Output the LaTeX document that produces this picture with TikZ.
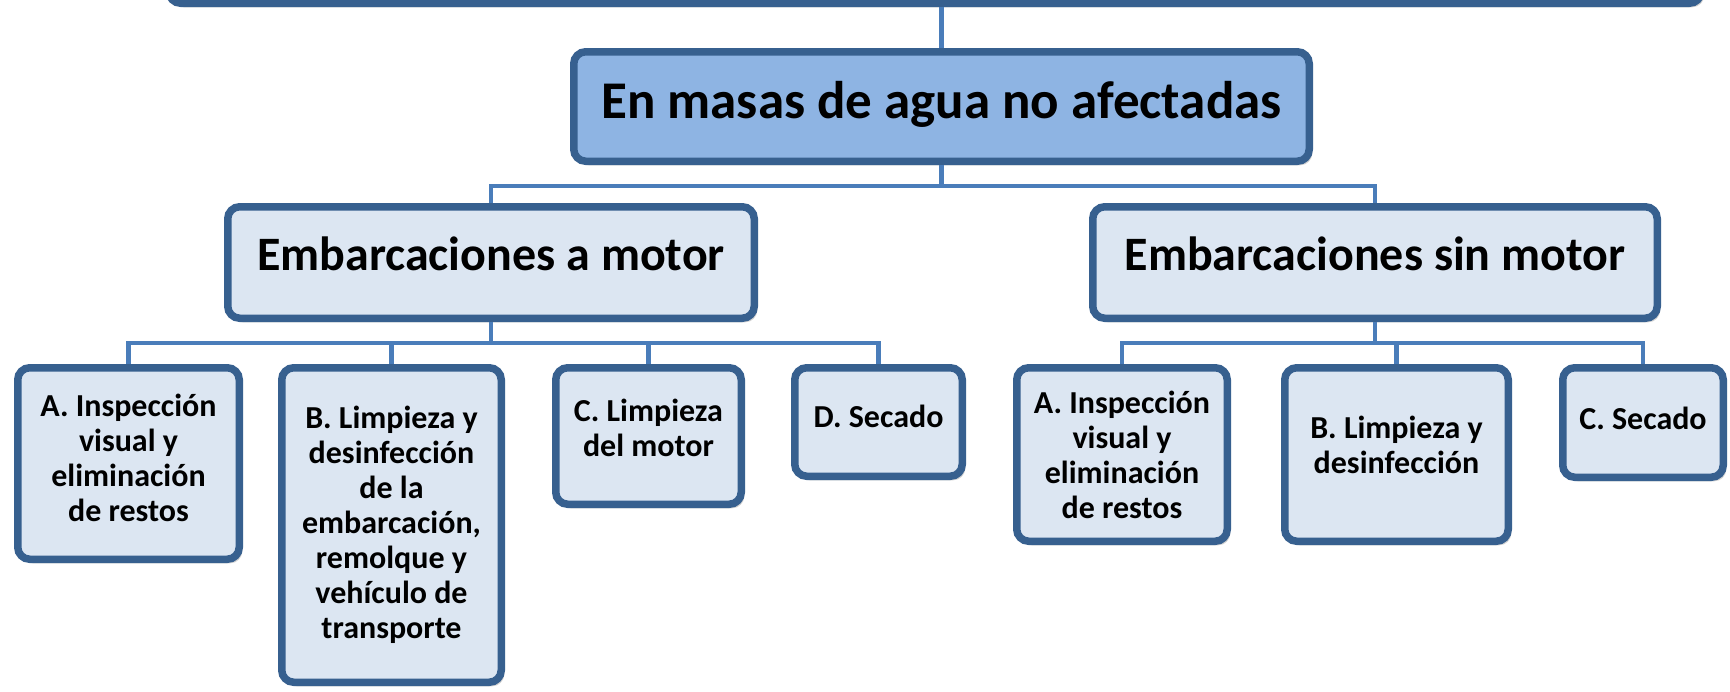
\documentclass[tikz,border=0pt]{standalone}
\usepackage{fontspec}
\setmainfont{Carlito}
\usetikzlibrary{shadows}
\definecolor{bord}{HTML}{37608F}
\definecolor{connc}{HTML}{4A7DBA}
\definecolor{lightfill}{HTML}{DCE6F2}
\definecolor{mainfill}{HTML}{8EB4E3}
\begin{document}
\begin{tikzpicture}[x=1pt,y=-1pt,
  box/.style={draw=bord, line width=7.5pt, rounded corners=12pt, fill=lightfill,
    align=center, inner sep=0pt,
    drop shadow={shadow xshift=3pt, shadow yshift=-4pt, opacity=0.18, fill=black}},
  bigtxt/.style={font=\fontsize{53}{60}\selectfont\bfseries, align=center},
  midtxt/.style={font=\fontsize{48}{55}\selectfont\bfseries, align=center},
  smalltxt/.style={font=\fontsize{32}{35}\selectfont\bfseries, align=center},
  conn/.style={draw=connc, line width=4.3pt},
  sz/.style 2 args={minimum width=#1-7.5pt, minimum height=#2-7.5pt}
]
\clip (0,0) rectangle (1730,691);
\fill[white] (0,0) rectangle (1730,691);

\node[box, fill=mainfill, sz={1540pt}{114pt}] (top) at (935,-50) {};
\node[box, fill=mainfill, sz={743pt}{117pt},
  label={[bigtxt, yshift=2pt]center:En masas de agua no afectadas}] (main) at (941.5,106.5) {};

\node[box, sz={534pt}{119pt},
  label={[midtxt, yshift=9pt]center:Embarcaciones a motor}] (mot) at (491,262.5) {};
\node[box, sz={572pt}{119pt},
  label={[midtxt, yshift=9pt]center:Embarcaciones sin motor}] (sin) at (1375,262.5) {};

\node[box, sz={229pt}{199pt},
  label={[smalltxt, yshift=6pt]center:{A. Inspección\\visual y\\eliminación\\de restos}}] (a1) at (128.5,463.5) {};
\node[box, sz={227pt}{322pt},
  label={[smalltxt]center:{B. Limpieza y\\desinfección\\de la\\embarcación,\\remolque y\\vehículo de\\transporte}}] (a2) at (391.5,525) {};
\node[box, sz={193pt}{144pt},
  label={[smalltxt, yshift=8pt]center:{C. Limpieza\\del motor}}] (a3) at (648.5,436) {};
\node[box, sz={175pt}{116pt},
  label={[smalltxt, yshift=6pt]center:D. Secado}] (a4) at (878.5,422) {};

\node[box, sz={218pt}{181pt},
  label={[smalltxt]center:{A. Inspección\\visual y\\eliminación\\de restos}}] (b1) at (1122,454.5) {};
\node[box, sz={231pt}{181pt},
  label={[smalltxt, yshift=10pt]center:{B. Limpieza y\\desinfección}}] (b2) at (1396.5,454.5) {};
\node[box, sz={168pt}{117pt},
  label={[smalltxt, yshift=4pt]center:C. Secado}] (b3) at (1643,422.5) {};

\draw[conn] (top.south -| main.north) -- (main.north);
\coordinate (j0) at (941.5,186);
\draw[conn] (main.south) -- (j0);
\draw[conn] (j0) -| (mot.north);
\draw[conn] (j0) -| (sin.north);

\coordinate (j1) at (491,343);
\draw[conn] (mot.south) -- (j1);
\draw[conn] (j1) -| (a1.north);
\draw[conn] (j1) -| (a2.north);
\draw[conn] (j1) -| (a3.north);
\draw[conn] (j1) -| (a4.north);

\coordinate (j2) at (1375,343);
\draw[conn] (sin.south) -- (j2);
\draw[conn] (j2) -| (b1.north);
\draw[conn] (j2) -| (b2.north);
\draw[conn] (j2) -| (b3.north);
\end{tikzpicture}
\end{document}
